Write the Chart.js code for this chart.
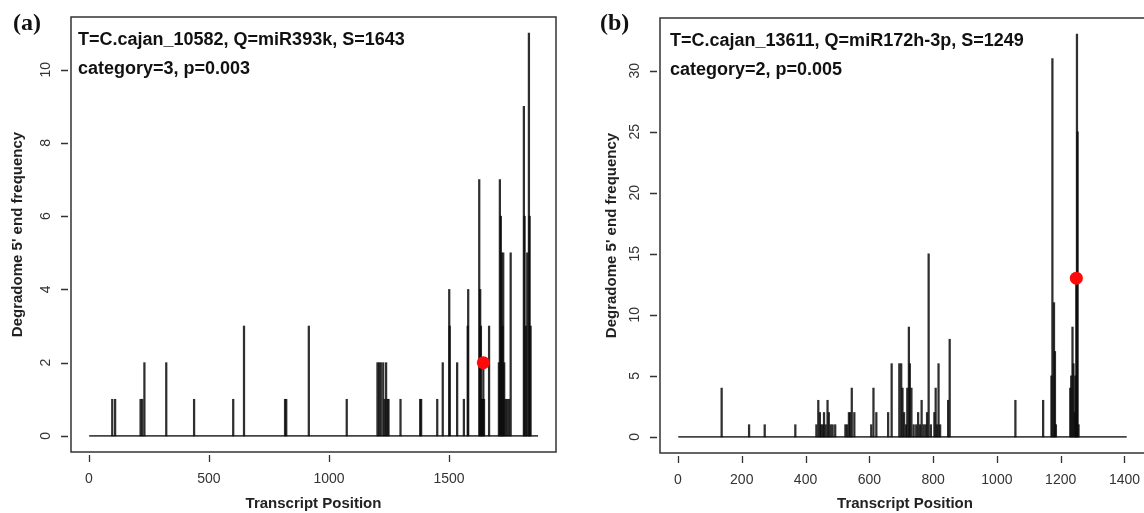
<!DOCTYPE html>
<html>
<head>
<meta charset="utf-8">
<script src="https://cdn.jsdelivr.net/npm/chart.js@4.4.1/dist/chart.umd.min.js"></script>
<style>
  html, body { margin: 0; padding: 0; background: #fff; overflow: hidden; }
  body { width: 1144px; height: 513px; position: relative; }
  canvas { position: absolute; top: 0; }
  #chartA { left: 0; }
  #chartB { left: 580px; }
</style>
</head>
<body>
<canvas id="chartA" width="572" height="513"></canvas>
<canvas id="chartB" width="580" height="513"></canvas>
<script>
// panel (a): T=C.cajan_10582
const posA = [97, 109, 215, 222, 231, 322, 438, 601, 646, 817, 822, 916, 1074,
  1202, 1209, 1216, 1226, 1232, 1238, 1244, 1248, 1298, 1380, 1384,
  1451, 1474, 1501, 1503, 1534, 1562, 1578, 1580,
  1626, 1630, 1633, 1636, 1640, 1643, 1646, 1667,
  1708, 1712, 1716, 1719, 1723, 1726, 1730, 1735, 1742, 1750, 1757,
  1812, 1815, 1820, 1826, 1833, 1836, 1840];
const freqA = [1, 1, 1, 1, 2, 2, 1, 1, 3, 1, 1, 3, 1,
  2, 2, 2, 2, 1, 2, 1, 1, 1, 1, 1,
  1, 2, 4, 3, 2, 1, 3, 4,
  7, 4, 3, 1, 1, 2, 1, 3,
  2, 7, 6, 5, 3, 5, 2, 1, 1, 1, 5,
  9, 6, 3, 5, 11, 6, 3];
const lengthA = 1871;
const siteA = 1643, siteFreqA = 2;
const xTicksA = [0, 500, 1000, 1500];
const yTicksA = [0, 2, 4, 6, 8, 10];
const notesA = ['T=C.cajan_10582, Q=miR393k, S=1643', 'category=3, p=0.003'];

// panel (b): T=C.cajan_13611
const posB = [137, 223, 272, 368,
  434, 440, 445, 449, 454, 458, 463, 469, 473, 479, 485, 493,
  525, 530, 536, 540, 545, 553, 606, 613, 622, 659, 670,
  694, 700, 704, 709, 715, 719, 724, 727, 732, 739, 747, 753, 759, 764, 770, 776, 781, 786, 793,
  804, 808, 813, 817, 822, 847, 852, 1058, 1145,
  1171, 1174, 1179, 1182, 1185,
  1230, 1233, 1237, 1240, 1244, 1246, 1249, 1251, 1253, 1256];
const freqB = [4, 1, 1, 1,
  1, 3, 2, 1, 1, 2, 1, 3, 2, 1, 1, 1,
  1, 1, 2, 2, 4, 2, 1, 4, 2, 2, 6,
  6, 6, 4, 2, 1, 4, 9, 6, 4, 1, 1, 2, 1, 3, 1, 1, 2, 15, 1,
  2, 4, 1, 6, 1, 3, 8, 3, 3,
  5, 31, 11, 7, 1,
  4, 5, 9, 6, 2, 5, 13, 33, 25, 1];
const lengthB = 1407;
const siteB = 1249, siteFreqB = 13;
const xTicksB = [0, 200, 400, 600, 800, 1000, 1200, 1400];
const yTicksB = [0, 5, 10, 15, 20, 25, 30];
const notesB = ['T=C.cajan_13611, Q=miR172h-3p, S=1249', 'category=2, p=0.005'];

// box, tick marks, in-plot notes and panel tag (R base-graphics look)
const frame = {
  id: 'frame',
  afterDraw(chart, args, opts) {
    const {ctx, chartArea: a, scales: {x, y}} = chart;
    ctx.save();
    ctx.strokeStyle = '#333';
    ctx.lineWidth = 1.5;
    ctx.strokeRect(a.left, a.top, a.right - a.left, a.bottom - a.top);
    ctx.lineWidth = 1.3;
    ctx.beginPath();
    x.ticks.forEach(t => {
      const px = Math.round(x.getPixelForValue(t.value)) + 0.5;
      ctx.moveTo(px, a.bottom + 3); ctx.lineTo(px, a.bottom + 10);
    });
    y.ticks.forEach(t => {
      const py = Math.round(y.getPixelForValue(t.value)) + 0.5;
      ctx.moveTo(a.left - 3, py); ctx.lineTo(a.left - 10, py);
    });
    ctx.stroke();
    ctx.fillStyle = '#111';
    ctx.textBaseline = 'middle';
    ctx.font = 'bold 18px "Liberation Sans", Arial, sans-serif';
    opts.notes.forEach((s, i) => ctx.fillText(s, a.left + opts.noteX, a.top + 23 + i * 29));
    ctx.font = 'bold 24px "Liberation Serif", "Times New Roman", serif';
    ctx.textBaseline = 'alphabetic';
    ctx.fillText(opts.tag, opts.tagX, 30);
    ctx.restore();
  }
};

function makePanel(id, p) {
  const bars = p.pos.map((v, i) => ({x: v, y: p.freq[i]}));
  return new Chart(document.getElementById(id), {
    type: 'bar',
    data: {
      datasets: [
        {
          type: 'line',
          data: [{x: 1, y: 0}, {x: p.length, y: 0}],
          borderColor: '#444',
          borderWidth: 1.6,
          pointRadius: 0,
          order: 2
        },
        {
          type: 'bar',
          data: bars,
          backgroundColor: 'rgba(10,10,10,0.85)',
          barThickness: 1.6,
          order: 1
        },
        {
          type: 'scatter',
          data: [{x: p.site, y: p.siteFreq}],
          backgroundColor: '#ff0a0a',
          borderWidth: 0,
          pointRadius: 6.5,
          order: 0
        }
      ]
    },
    options: {
      responsive: false,
      animation: false,
      devicePixelRatio: 1,
      layout: {padding: p.padding},
      plugins: {
        legend: {display: false},
        tooltip: {enabled: false},
        frame: {notes: p.notes, noteX: p.noteX, tag: p.tag, tagX: p.tagX}
      },
      scales: {
        x: {
          type: 'linear',
          offset: false,
          min: -p.length * 0.04,
          max: p.xMax,
          afterBuildTicks: s => { s.ticks = p.xTicks.map(v => ({value: v})); },
          afterFit: s => { s.height = p.xAxisH; s.paddingLeft = 0; s.paddingRight = 0; },
          grid: {display: false},
          border: {display: false},
          ticks: {
            autoSkip: false,
            maxRotation: 0,
            padding: 11,
            color: '#333',
            font: {family: '"Liberation Sans", Arial, sans-serif', size: 14},
            callback: v => String(v)
          },
          title: {
            display: true,
            text: 'Transcript Position',
            color: '#222',
            padding: {top: 0, bottom: 0},
            font: {family: '"Liberation Sans", Arial, sans-serif', size: 15, weight: 'bold'}
          }
        },
        y: {
          min: -p.ymax * 0.04,
          max: p.ymax * 1.04,
          afterBuildTicks: s => { s.ticks = p.yTicks.map(v => ({value: v})); },
          afterFit: s => { s.width = p.yAxisW; s.paddingTop = 0; s.paddingBottom = 0; },
          grid: {display: false},
          border: {display: false},
          ticks: {
            autoSkip: false,
            minRotation: 90,
            maxRotation: 90,
            crossAlign: 'center',
            padding: 9,
            color: '#333',
            font: {family: '"Liberation Sans", Arial, sans-serif', size: 14},
            callback: v => String(v)
          },
          title: {
            display: true,
            text: "Degradome 5' end frequency",
            color: '#222',
            padding: {top: p.yTitlePad, bottom: 0},
            font: {family: '"Liberation Sans", Arial, sans-serif', size: 15, weight: 'bold'}
          }
        }
      }
    },
    plugins: [frame]
  });
}

makePanel('chartA', {
  pos: posA, freq: freqA, length: lengthA, site: siteA, siteFreq: siteFreqA,
  xMax: lengthA * 1.04,
  xTicks: xTicksA, yTicks: yTicksA, ymax: 11, notes: notesA, noteX: 7,
  tag: '(a)', tagX: 13,
  padding: {left: 0, top: 17, right: 16, bottom: 0},
  xAxisH: 61, yAxisW: 71, yTitlePad: 9
});

// right edge of box (b) sits just past the window edge, as in the original crop
makePanel('chartB', {
  pos: posB, freq: freqB, length: lengthB, site: siteB, siteFreq: siteFreqB,
  xMax: 1480,
  xTicks: xTicksB, yTicks: yTicksB, ymax: 33, notes: notesB, noteX: 10,
  tag: '(b)', tagX: 20,
  padding: {left: 0, top: 18, right: 10, bottom: 0},
  xAxisH: 60, yAxisW: 80, yTitlePad: 23
});
</script>
</body>
</html>
